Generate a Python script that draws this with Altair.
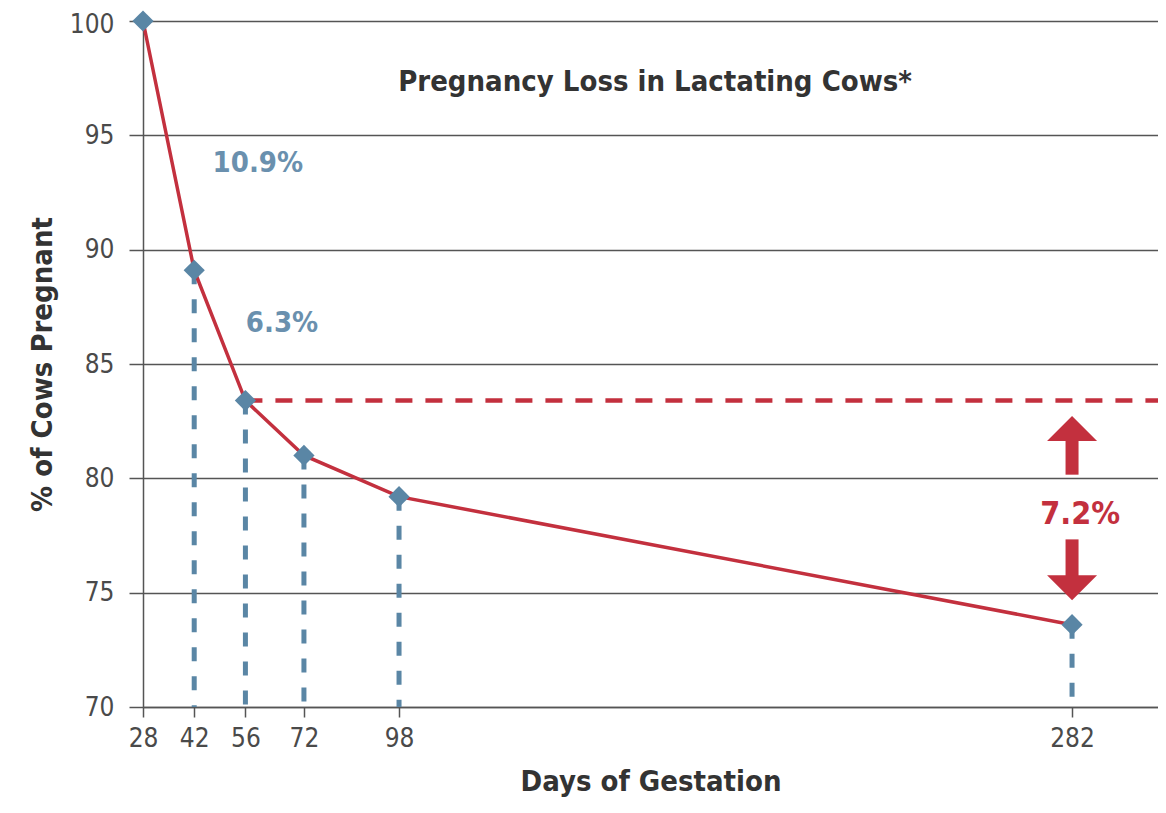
import altair as alt
import pandas as pd

# ---- data ----
days = [28, 42, 56, 72, 98, 282]
pct_pregnant = [100.0, 89.1, 83.4, 81.0, 79.2, 73.6]

x_ticks = [28, 42, 56, 72, 98, 282]
y_ticks = [70, 75, 80, 85, 90, 95, 100]

ref_start_day = 56
ref_end_day = 305.5
ref_level = 83.4

loss_labels = ["10.9%", "6.3%"]
loss_label_day = [59.4, 66.0]
loss_label_pct = [93.8, 86.8]

diff_label = "7.2%"
diff_label_day = 284.2
diff_label_pct = 78.46

arrow_day = 282
arrow_shaft_from = [80.16, 77.33]
arrow_shaft_to = [81.7, 75.7]
arrow_head_pct = [82.18, 75.22]
arrow_head_shape = ["M-1,0.5L0,-0.5L1,0.5Z", "M-1,-0.5L0,0.5L1,-0.5Z"]

title_text = "Pregnancy Loss in Lactating Cows*"
title_day = 168
title_pct = 97.35

# ---- styling ----
FONT = "Liberation Sans Narrow, Arial Narrow, DejaVu Sans Condensed, sans-serif"
RED = "#C3303E"
BLUE = "#5A86A5"
LBLUE = "#6A90AE"
BG = "#F4F1E4"
AX = "#555555"

main = pd.DataFrame({"day": days, "pct": pct_pregnant})
drops = main[main["day"] > 28].copy()
drops["base"] = 70

x_scale = alt.Scale(domain=[28, ref_end_day], nice=False, zero=False)
y_scale = alt.Scale(domain=[70, 100], nice=False, zero=False)

x_axis = alt.Axis(
    values=x_ticks, grid=False, title="Days of Gestation",
    labelFontSize=26, labelColor="#4a4a4a", labelFont=FONT, labelPadding=8,
    labelFlush=False, labelOverlap=False,
    tickSize=10, tickColor=AX, tickWidth=1.5, domainColor=AX, domainWidth=1.5,
    titleFontSize=29, titleFont=FONT, titleFontWeight="bold", titleColor="#333333",
    titlePadding=16,
)
y_axis = alt.Axis(
    values=y_ticks, grid=True, gridColor=AX, gridWidth=1.5,
    title="% of Cows Pregnant",
    labelFontSize=26, labelColor="#4a4a4a", labelFont=FONT, labelPadding=15,
    labelFlush=False, labelOverlap=False,
    labelOffset={"condition": {"test": "datum.value == 100", "value": 3}, "value": 0},
    tickSize=14, tickColor=AX, tickWidth=1.5, domainColor=AX, domainWidth=1.5,
    titleFontSize=29, titleFont=FONT, titleFontWeight="bold", titleColor="#333333",
    titlePadding=12,
)

X = alt.X("day:Q", scale=x_scale, axis=x_axis)
Y = alt.Y("pct:Q", scale=y_scale, axis=y_axis)

drop_lines = alt.Chart(drops).mark_rule(
    color=BLUE, strokeWidth=5, strokeDash=[14, 15]
).encode(x=X, y=Y, y2="base:Q")

ref_df = pd.DataFrame({"day": [ref_start_day], "day2": [ref_end_day], "pct": [ref_level]})
ref_line = alt.Chart(ref_df).mark_rule(
    color=RED, strokeWidth=4.5, strokeDash=[17, 13]
).encode(x=X, x2="day2:Q", y=Y)

curve = alt.Chart(main).mark_line(
    color=RED, strokeWidth=3.5, interpolate="linear"
).encode(x=X, y=Y)

points = alt.Chart(main).mark_point(
    shape="diamond", filled=True, size=450, color=BLUE, opacity=1
).encode(x=X, y=Y)

shaft_df = pd.DataFrame({"day": [arrow_day] * 2, "pct": arrow_shaft_from, "pct2": arrow_shaft_to})
shafts = alt.Chart(shaft_df).mark_rule(color=RED, strokeWidth=13, strokeCap="butt").encode(
    x=X, y=Y, y2="pct2:Q"
)
heads = alt.layer(*[
    alt.Chart(pd.DataFrame({"day": [arrow_day], "pct": [hp]})).mark_point(
        shape=sh, filled=True, size=2500, color=RED, opacity=1
    ).encode(x=X, y=Y)
    for hp, sh in zip(arrow_head_pct, arrow_head_shape)
])

loss_df = pd.DataFrame({"day": loss_label_day, "pct": loss_label_pct, "t": loss_labels})
loss_text = alt.Chart(loss_df).mark_text(
    font=FONT, fontSize=29, fontWeight="bold", color=LBLUE, align="center", baseline="middle"
).encode(x=X, y=Y, text="t:N")

diff_df = pd.DataFrame({"day": [diff_label_day], "pct": [diff_label_pct], "t": [diff_label]})
diff_text = alt.Chart(diff_df).mark_text(
    font=FONT, fontSize=32, fontWeight="bold", color=RED, align="center", baseline="middle"
).encode(x=X, y=Y, text="t:N")

title_df = pd.DataFrame({"day": [title_day], "pct": [title_pct], "t": [title_text]})
title = alt.Chart(title_df).mark_text(
    font=FONT, fontSize=29, fontWeight="bold", color="#333333", align="center", baseline="middle"
).encode(x=X, y=Y, text="t:N")

chart = alt.layer(
    drop_lines, ref_line, curve, points, shafts, heads, loss_text, diff_text, title
).properties(
    width=1015, height=686,
    autosize=alt.AutoSizeParams(type="none"),
    padding={"left": 135, "top": 13, "right": 0, "bottom": 94},
).configure_view(
    fill=BG, stroke=None
).configure(background="white")

chart.save("out.html", embed_options={"renderer": "svg", "actions": False})
